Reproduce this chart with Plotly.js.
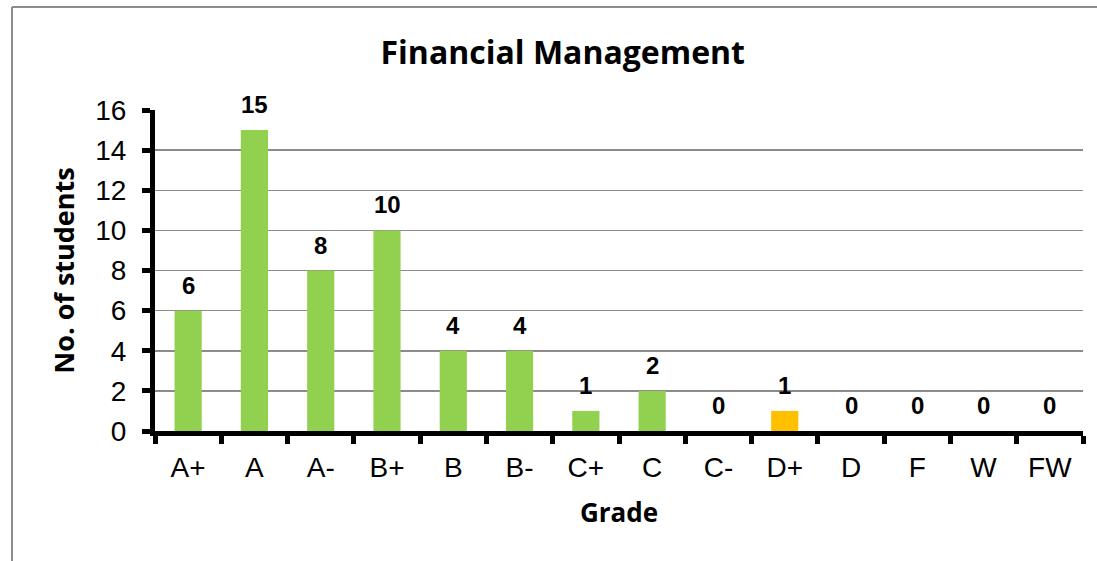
<!DOCTYPE html>
<html>
<head>
<meta charset="utf-8">
<script src="https://cdn.plot.ly/plotly-3.0.1.min.js"></script>
<style>
html,body{margin:0;padding:0;background:#fff;}
#chart{width:1097px;height:561px;}
</style>
</head>
<body>
<div id="chart"></div>
<script>
const grades = ["A+","A","A-","B+","B","B-","C+","C","C-","D+","D","F","W","FW"];
const students = [6,15,8,10,4,4,1,2,0,1,0,0,0,0];
const barColors = ["#92D050","#92D050","#92D050","#92D050","#92D050","#92D050","#92D050","#92D050","#92D050","#FFC000","#92D050","#92D050","#92D050","#92D050"];

const ARIAL = "Liberation Sans";
const CAL = "Open Sans";

const trace = {
  type: "bar",
  x: grades,
  y: students,
  marker: {color: barColors},
  hoverinfo: "x+y"
};

const annotations = grades.map((g, i) => ({
  x: g, y: students[i], xref: "x", yref: "y",
  text: "<b>" + String(students[i]) + "</b>",
  showarrow: false,
  yanchor: "bottom",
  yshift: 10,
  font: {family: ARIAL, size: 24, color: "#000"}
}));

const layout = {
  width: 1097, height: 561,
  margin: {l: 155, r: 14, t: 110, b: 130},
  paper_bgcolor: "#fff",
  plot_bgcolor: "#fff",
  bargap: 0.59,
  showlegend: false,
  title: {
    text: "<b>Financial Management</b>",
    font: {family: CAL, size: 32, color: "#000"},
    x: 0.513, xanchor: "center", y: 0.905, yanchor: "middle"
  },
  xaxis: {
    type: "category",
    tickson: "boundaries",
    ticks: "outside", ticklen: 8, tickwidth: 5, tickcolor: "#000",
    showline: true, linecolor: "#000", linewidth: 5,
    showgrid: false,
    tickfont: {family: ARIAL, size: 28, color: "#000"},
    ticklabelstandoff: 7,
    title: {text: "<b>Grade</b>", font: {family: CAL, size: 26, color: "#000"}, standoff: 24},
    fixedrange: true
  },
  yaxis: {
    range: [0, 16], dtick: 2,
    ticks: "outside", ticklen: 8, tickwidth: 5, tickcolor: "#000",
    showline: true, linecolor: "#000", linewidth: 5,
    showgrid: true, gridcolor: "#8c8c8c", gridwidth: 1.5,
    zeroline: false,
    tickfont: {family: ARIAL, size: 28, color: "#000"},
    ticklabelstandoff: 10,
    title: {text: "<b>No. of students</b>", font: {family: CAL, size: 27, color: "#000"}, standoff: 14},
    fixedrange: true
  },
  annotations: annotations,
  shapes: [
    {type: "line", xref: "paper", yref: "paper", layer: "below",
     x0: (12-155)/928, x1: (1097-155)/928 + 0.05, y0: (431-7)/321, y1: (431-7)/321,
     line: {color: "#8c8c8c", width: 2}},
    {type: "line", xref: "paper", yref: "paper", layer: "below",
     x0: (12-155)/928, x1: (12-155)/928, y0: (431-7)/321, y1: (431-600)/321,
     line: {color: "#8c8c8c", width: 2}}
  ]
};

Plotly.newPlot("chart", [trace], layout, {displayModeBar: false, staticPlot: true});
</script>
</body>
</html>
